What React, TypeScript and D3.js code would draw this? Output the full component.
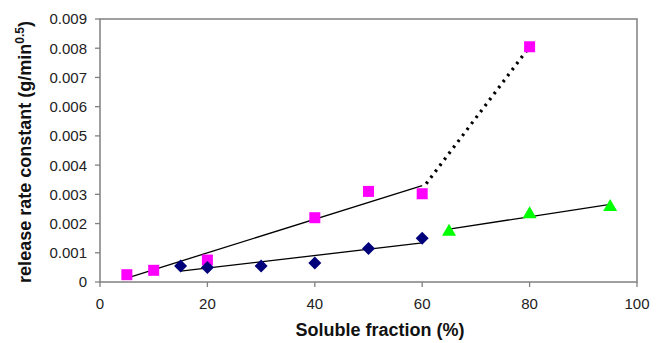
import React from "react";
import * as d3 from "d3";

const magentaX = [5, 10, 20, 40, 50, 60, 80];
const magentaY = [0.00025, 0.0004, 0.00075, 0.0022, 0.0031, 0.00302, 0.00805];
const blueX = [15, 20, 30, 40, 50, 60];
const blueY = [0.00055, 0.0005, 0.00055, 0.00065, 0.00115, 0.0015];
const greenX = [65, 80, 95];
const greenY = [0.00175, 0.00235, 0.0026];
const xTicks = [0, 20, 40, 60, 80, 100];
const yTicks = [0, 0.001, 0.002, 0.003, 0.004, 0.005, 0.006, 0.007, 0.008, 0.009];

function fit(xs: number[], ys: number[]) {
  const mx = d3.mean(xs)!;
  const my = d3.mean(ys)!;
  let sxy = 0, sxx = 0;
  xs.forEach((x, i) => { sxy += (x - mx) * (ys[i] - my); sxx += (x - mx) ** 2; });
  const b = sxy / sxx;
  const a = my - b * mx;
  return (x: number) => a + b * x;
}

export default function App() {
  const W = 665, H = 343;
  const x = d3.scaleLinear().domain([0, 100]).range([100, 637]);
  const y = d3.scaleLinear().domain([0, 0.009]).range([282, 19]);
  const axisColor = "#808080";
  const font = "'Liberation Sans', Arial, sans-serif";

  const mFit = fit(magentaX.slice(0, 6), magentaY.slice(0, 6));
  const bFit = fit(blueX, blueY);
  const gFit = fit(greenX, greenY);
  const trend = (f: (v: number) => number, x0: number, x1: number) => (
    <line x1={x(x0)} y1={y(f(x0))} x2={x(x1)} y2={y(f(x1))} stroke="#000" strokeWidth={1.3} />
  );

  const sq = 11, dm = 6.5, tr = 7;
  return (
    <svg width={W} height={H} style={{ position: "absolute", left: 0, top: 0, background: "#fff" }}>
      <rect x={x(0)} y={y(0.009)} width={x(100) - x(0)} height={y(0) - y(0.009)} fill="none" stroke={axisColor} strokeWidth={1.5} />
      {yTicks.map((t) => (
        <g key={t}>
          <line x1={x(0) - 5} x2={x(0)} y1={y(t)} y2={y(t)} stroke={axisColor} strokeWidth={1.3} />
          <text x={x(0) - 13} y={y(t)} dy="0.36em" textAnchor="end" fontFamily={font} fontSize={15} fill="#222">
            {t === 0 ? "0" : t.toFixed(3)}
          </text>
        </g>
      ))}
      {xTicks.map((t) => (
        <g key={t}>
          <line x1={x(t)} x2={x(t)} y1={y(0)} y2={y(0) + 5} stroke={axisColor} strokeWidth={1.3} />
          <text x={x(t)} y={y(0) + 27} textAnchor="middle" fontFamily={font} fontSize={15} fill="#222">{t}</text>
        </g>
      ))}
      <text x={380} y={336} textAnchor="middle" fontFamily={font} fontSize={18} fontWeight="bold" fill="#111">Soluble fraction (%)</text>
      <text transform="translate(31,152) rotate(-90)" textAnchor="middle" fontFamily={font} fontSize={18} fontWeight="bold" fill="#111">
        release rate constant (g/min<tspan dy="-7" fontSize={12}>0.5</tspan><tspan dy="7">)</tspan>
      </text>

      {trend(mFit, 5, 60)}
      {trend(bFit, 15, 60)}
      {trend(gFit, 65, 95)}
      <line x1={x(magentaX[5]) + 4} y1={y(magentaY[5]) - 10} x2={x(magentaX[6])} y2={y(magentaY[6])}
        stroke="#000" strokeWidth={3.2} strokeDasharray="2.5,5" />

      {magentaX.map((v, i) => (
        <rect key={"m" + i} x={x(v) - sq / 2} y={y(magentaY[i]) - sq / 2} width={sq} height={sq} fill="#ff00ff" />
      ))}
      {blueX.map((v, i) => (
        <path key={"b" + i} d={`M${x(v)},${y(blueY[i]) - dm}L${x(v) + dm},${y(blueY[i])}L${x(v)},${y(blueY[i]) + dm}L${x(v) - dm},${y(blueY[i])}Z`} fill="#00007a" />
      ))}
      {greenX.map((v, i) => (
        <path key={"g" + i} d={`M${x(v)},${y(greenY[i]) - tr}L${x(v) + tr},${y(greenY[i]) + tr * 0.7}L${x(v) - tr},${y(greenY[i]) + tr * 0.7}Z`} fill="#00ff00" />
      ))}
    </svg>
  );
}
